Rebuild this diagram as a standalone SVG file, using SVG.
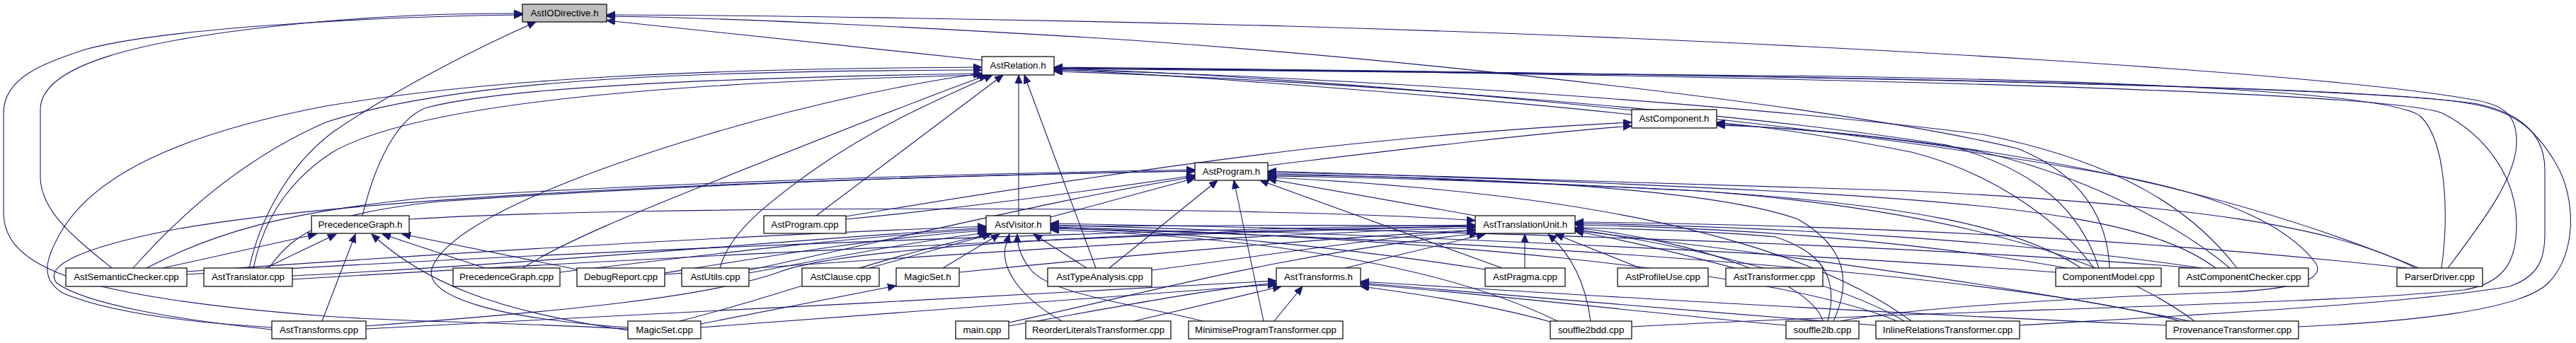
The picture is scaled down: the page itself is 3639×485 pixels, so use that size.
<svg xmlns="http://www.w3.org/2000/svg" width="3639" height="485" viewBox="0 0 3639 485">
<style>
.node rect{fill:#fff;stroke:#000;stroke-width:1.2}
.node rect.hl{fill:#bfbfbf}
.node text{font-family:"Liberation Sans",Arial,Helvetica,sans-serif;font-size:13.3px;text-anchor:middle;fill:#000}
#edges path{fill:none;stroke:#191970;stroke-width:1.1;marker-end:url(#arr)}
</style>
<defs>
<marker id="arr" markerUnits="userSpaceOnUse" markerWidth="14" markerHeight="11" refX="12" refY="5" orient="auto"><path d="M0,0 L12,5 L0,10 z" fill="#191970" stroke="#191970"/></marker>
</defs>
<rect width="3639" height="485" fill="#fff"/>
<g id="edges">
<path d="M1387,85 L857,29"/>
<path d="M158,379 C110,340 57,300 57,250 L57,155 C57,95 180,55 460,30 C580,20 660,19 738,19"/>
<path d="M887,465 C700,455 560,455 460,447 C300,435 150,415 80,385 C20,360 5,330 5,300 L5,160 C5,110 60,90 120,70 C250,35 600,22 738,21"/>
<path d="M352,379 C365,320 400,240 470,187 C560,125 680,65 757,31"/>
<path d="M3458,379 C3510,310 3555,250 3555,200 C3555,165 3540,150 3500,142 C3300,105 2600,60 1820,37 C1400,26 1000,21 857,21"/>
<path d="M2980,379 C2978,320 2950,250 2850,210 C2600,150 2000,85 1600,57 C1300,38 1000,24 857,23"/>
<path d="M512,305 C530,230 560,170 600,153 C700,125 1000,110 1387,104"/>
<path d="M188,379 C240,320 330,230 460,173 C650,110 1000,100 1387,99"/>
<path d="M358,379 C370,320 400,260 470,215 C600,140 1000,115 1392,106"/>
<path d="M384,463 C250,455 150,440 90,415 C55,395 65,365 85,330 C130,250 250,190 460,150 C700,110 1000,97 1387,95"/>
<path d="M1017,379 C1030,330 1080,290 1150,240 C1250,170 1350,130 1402,106"/>
<path d="M1153,305 L1417,106"/>
<path d="M1439,305 L1439,106"/>
<path d="M1548,379 L1447,106"/>
<path d="M2305,162 C2100,140 1700,108 1489,98"/>
<path d="M2965,379 C2940,300 2880,240 2750,205 C2400,150 1800,110 1489,101"/>
<path d="M3160,379 C3100,300 3000,230 2800,190 C2400,140 1800,105 1489,99"/>
<path d="M3449,379 C3460,300 3455,200 3420,165 C3380,130 3000,115 2600,108 C2200,102 1800,98 1489,97"/>
<path d="M2853,460 C3100,445 3400,430 3545,405 C3590,390 3595,360 3595,330 L3595,240 C3595,190 3560,160 3500,147 C3300,115 2000,100 1489,96"/>
<path d="M3247,462 C3400,455 3560,440 3600,400 C3640,360 3640,280 3610,230 C3580,180 3550,155 3480,145 C3300,115 2000,100 1489,95"/>
<path d="M2305,462 C2700,440 3300,430 3480,410 C3545,400 3555,360 3555,317 C3555,250 3510,190 3450,160 C3350,120 2000,100 1489,96"/>
<path d="M2600,454 C2700,435 2950,420 3150,413 C3260,408 3285,390 3270,370 C3230,320 3150,280 3000,250 C2500,160 1800,105 1489,97"/>
<path d="M738,379 C800,340 900,300 1000,260 C1150,200 1300,140 1395,106"/>
<path d="M887,463 C700,450 600,420 610,380 C630,320 800,250 1000,190 C1150,145 1300,115 1387,104"/>
<path d="M1791,234 C1950,215 2150,190 2305,178"/>
<path d="M1195,306 C1350,280 1600,240 1850,210 C2050,188 2200,178 2305,173"/>
<path d="M2958,379 C2900,300 2800,240 2700,215 C2600,195 2500,180 2425,173"/>
<path d="M3150,379 C3080,320 2950,250 2800,215 C2650,190 2500,180 2425,175"/>
<path d="M3417,379 C3300,330 3150,280 2950,240 C2750,200 2550,180 2425,177"/>
<path d="M2084,305 L1791,253"/>
<path d="M1484,307 L1688,252"/>
<path d="M1195,310 C1400,290 1550,268 1688,248"/>
<path d="M1567,379 L1720,255"/>
<path d="M1785,454 L1743,255"/>
<path d="M207,379 C300,330 400,300 600,280 C1000,255 1400,245 1688,240"/>
<path d="M380,379 C420,320 480,300 620,285 C900,265 1300,248 1688,242"/>
<path d="M1058,382 C1300,330 1500,280 1688,250"/>
<path d="M2940,379 C2850,320 2700,290 2400,270 C2100,255 1900,247 1791,246"/>
<path d="M3130,379 C3050,320 2900,290 2500,270 C2200,255 1950,246 1791,244"/>
<path d="M3412,379 C3300,320 3100,290 2700,270 C2300,255 2000,246 1791,242"/>
<path d="M2122,379 L1780,255"/>
<path d="M2590,454 C2615,400 2610,350 2540,310 C2400,260 2000,248 1791,248"/>
<path d="M2700,454 C2600,380 2400,300 2000,265 C1900,256 1820,252 1791,251"/>
<path d="M384,466 C250,452 120,430 80,400 C60,375 120,350 233,327 C400,295 700,275 1000,262 C1300,250 1550,244 1688,242"/>
<path d="M3100,454 C3000,380 2800,300 2400,270 C2100,255 1900,250 1791,249"/>
<path d="M264,384 C600,360 1000,335 1393,320"/>
<path d="M413,390 C800,370 1100,340 1393,322"/>
<path d="M791,385 C1000,360 1200,335 1393,324"/>
<path d="M939,386 C1100,360 1250,335 1393,326"/>
<path d="M1058,386 C1200,360 1300,340 1395,329"/>
<path d="M1228,379 L1400,331"/>
<path d="M1332,379 L1412,331"/>
<path d="M1535,379 L1460,331"/>
<path d="M1500,454 C1440,420 1415,380 1420,350 L1426,331"/>
<path d="M1700,454 C1600,430 1480,415 1455,380 C1440,360 1437,345 1437,331"/>
<path d="M960,454 C1100,420 1250,360 1400,331"/>
<path d="M2904,385 C2500,355 1900,330 1484,318"/>
<path d="M3100,379 C2700,345 2000,325 1484,316"/>
<path d="M2680,454 C2500,380 2000,335 1484,321"/>
<path d="M3080,454 C2800,380 2000,335 1484,323"/>
<path d="M2200,454 C2050,380 1800,335 1484,325"/>
<path d="M2098,381 C1900,350 1700,330 1484,322"/>
<path d="M2582,454 C2598,393 2575,357 2508,335 C2300,315 1800,318 1484,320"/>
<path d="M578,310 C900,290 1800,290 2084,312"/>
<path d="M1900,379 L2098,331"/>
<path d="M2154,379 L2154,331"/>
<path d="M2317,379 L2197,331"/>
<path d="M2450,379 C2380,360 2300,340 2225,327"/>
<path d="M264,388 C900,350 1600,325 2084,318"/>
<path d="M413,395 C1000,360 1600,330 2084,320"/>
<path d="M939,388 C1400,355 1800,330 2084,322"/>
<path d="M1355,385 C1600,360 1900,335 2084,325"/>
<path d="M2920,379 C2700,340 2450,322 2225,318"/>
<path d="M3110,379 C2850,340 2500,320 2225,316"/>
<path d="M3400,379 C3000,335 2600,318 2225,314"/>
<path d="M2247,454 C2240,400 2220,360 2187,331"/>
<path d="M2575,454 C2560,400 2400,340 2225,322"/>
<path d="M2690,454 C2600,400 2400,350 2225,324"/>
<path d="M3093,454 C2900,415 2600,370 2225,326"/>
<path d="M1425,456 C1600,420 1800,360 2088,330"/>
<path d="M1627,382 C1800,360 1950,335 2084,326"/>
<path d="M517,461 C800,440 1000,420 1100,385 C1200,345 1700,325 2084,320"/>
<path d="M230,379 L447,331"/>
<path d="M375,379 L475,331"/>
<path d="M685,379 L540,331"/>
<path d="M815,381 L568,331"/>
<path d="M455,454 L502,331"/>
<path d="M887,467 C700,440 600,400 525,331"/>
<path d="M517,465 C900,445 1400,420 1803,397"/>
<path d="M1425,461 C1600,430 1700,410 1803,400"/>
<path d="M1602,454 L1810,405"/>
<path d="M1800,454 L1840,405"/>
<path d="M2650,460 C2400,440 2100,415 1922,400"/>
<path d="M3060,460 C2600,440 2200,415 1922,398"/>
<path d="M2190,455 C2100,430 2000,415 1922,405"/>
<path d="M2523,460 C2300,440 2100,415 1922,402"/>
<path d="M990,463 C1300,440 1600,415 1803,402"/>
<path d="M990,458 L1266,404"/>
</g>
<g id="n-io" class="node"><rect class="hl" x="738" y="6" width="119" height="25"/><text x="797.5" y="23">AstIODirective.h</text></g>
<g id="n-rel" class="node"><rect x="1387" y="80" width="102" height="26"/><text x="1438" y="97">AstRelation.h</text></g>
<g id="n-comp" class="node"><rect x="2305" y="155" width="120" height="26"/><text x="2365" y="172">AstComponent.h</text></g>
<g id="n-prog" class="node"><rect x="1688" y="230" width="103" height="25"/><text x="1739.5" y="247">AstProgram.h</text></g>
<g id="n-pgh" class="node"><rect x="440" y="305" width="138" height="25"/><text x="509" y="322">PrecedenceGraph.h</text></g>
<g id="n-apc" class="node"><rect x="1079" y="305" width="116" height="25"/><text x="1137" y="322">AstProgram.cpp</text></g>
<g id="n-vis" class="node"><rect x="1393" y="305" width="91" height="25"/><text x="1438.5" y="322">AstVisitor.h</text></g>
<g id="n-tu" class="node"><rect x="2084" y="305" width="141" height="25"/><text x="2154.5" y="322">AstTranslationUnit.h</text></g>
<g id="n-sem" class="node"><rect x="93" y="379" width="171" height="26"/><text x="178.5" y="396">AstSemanticChecker.cpp</text></g>
<g id="n-trl" class="node"><rect x="288" y="379" width="125" height="26"/><text x="350.5" y="396">AstTranslator.cpp</text></g>
<g id="n-pgc" class="node"><rect x="640" y="379" width="151" height="26"/><text x="715.5" y="396">PrecedenceGraph.cpp</text></g>
<g id="n-dbg" class="node"><rect x="815" y="379" width="124" height="26"/><text x="877" y="396">DebugReport.cpp</text></g>
<g id="n-utl" class="node"><rect x="963" y="379" width="95" height="26"/><text x="1010.5" y="396">AstUtils.cpp</text></g>
<g id="n-cla" class="node"><rect x="1133" y="379" width="109" height="26"/><text x="1187.5" y="396">AstClause.cpp</text></g>
<g id="n-msh" class="node"><rect x="1266" y="379" width="89" height="26"/><text x="1310.5" y="396">MagicSet.h</text></g>
<g id="n-tya" class="node"><rect x="1480" y="379" width="147" height="26"/><text x="1553.5" y="396">AstTypeAnalysis.cpp</text></g>
<g id="n-trh" class="node"><rect x="1803" y="379" width="119" height="26"/><text x="1862.5" y="396">AstTransforms.h</text></g>
<g id="n-pra" class="node"><rect x="2098" y="379" width="113" height="26"/><text x="2154.5" y="396">AstPragma.cpp</text></g>
<g id="n-pro" class="node"><rect x="2285" y="379" width="128" height="26"/><text x="2349" y="396">AstProfileUse.cpp</text></g>
<g id="n-trf" class="node"><rect x="2438" y="379" width="137" height="26"/><text x="2506.5" y="396">AstTransformer.cpp</text></g>
<g id="n-cmc" class="node"><rect x="2904" y="379" width="149" height="26"/><text x="2978.5" y="396">ComponentModel.cpp</text></g>
<g id="n-acc" class="node"><rect x="3078" y="379" width="183" height="26"/><text x="3169.5" y="396">AstComponentChecker.cpp</text></g>
<g id="n-pdr" class="node"><rect x="3386" y="379" width="121" height="26"/><text x="3446.5" y="396">ParserDriver.cpp</text></g>
<g id="n-trc" class="node"><rect x="384" y="454" width="133" height="25"/><text x="450.5" y="471">AstTransforms.cpp</text></g>
<g id="n-msc" class="node"><rect x="887" y="454" width="103" height="25"/><text x="938.5" y="471">MagicSet.cpp</text></g>
<g id="n-main" class="node"><rect x="1350" y="454" width="75" height="25"/><text x="1387.5" y="471">main.cpp</text></g>
<g id="n-rlt" class="node"><rect x="1449" y="454" width="205" height="25"/><text x="1551.5" y="471">ReorderLiteralsTransformer.cpp</text></g>
<g id="n-mpt" class="node"><rect x="1679" y="454" width="218" height="25"/><text x="1788" y="471">MinimiseProgramTransformer.cpp</text></g>
<g id="n-s2b" class="node"><rect x="2190" y="454" width="115" height="25"/><text x="2247.5" y="471">souffle2bdd.cpp</text></g>
<g id="n-s2l" class="node"><rect x="2523" y="454" width="103" height="25"/><text x="2574.5" y="471">souffle2lb.cpp</text></g>
<g id="n-irt" class="node"><rect x="2650" y="454" width="203" height="25"/><text x="2751.5" y="471">InlineRelationsTransformer.cpp</text></g>
<g id="n-pvt" class="node"><rect x="3060" y="454" width="187" height="25"/><text x="3153.5" y="471">ProvenanceTransformer.cpp</text></g>
</svg>
